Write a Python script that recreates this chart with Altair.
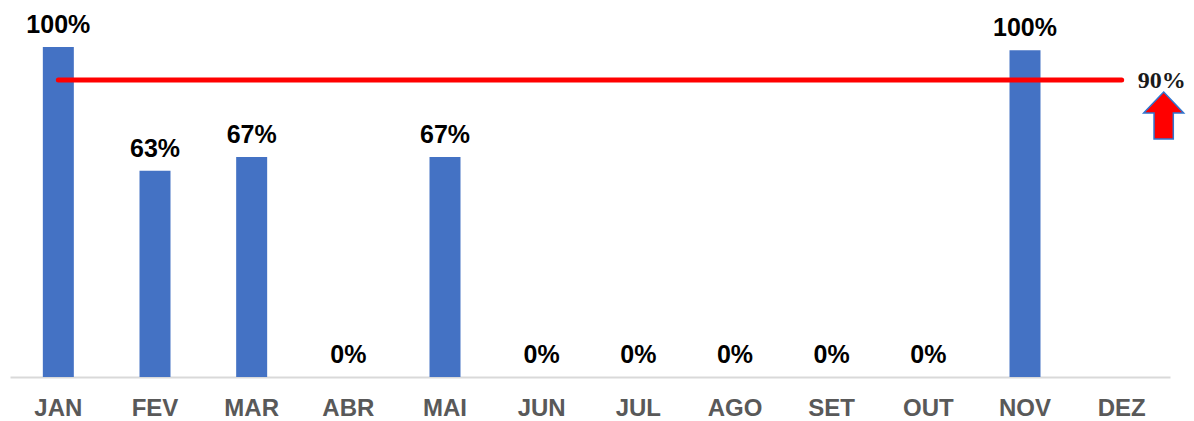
import altair as alt
import pandas as pd

months = ["JAN", "FEV", "MAR", "ABR", "MAI", "JUN", "JUL", "AGO", "SET", "OUT", "NOV", "DEZ"]
values = [1.0, 0.625, 0.667, 0.0, 0.667, 0.0, 0.0, 0.0, 0.0, 0.0, 0.99, None]
labels = ["100%", "63%", "67%", "0%", "67%", "0%", "0%", "0%", "0%", "0%", "100%", ""]
target = 0.9
target_label = "90%"
target_month = "DEZ"

df = pd.DataFrame({"month": months, "value": values, "label": labels,
                   "target": [target] * len(months)})
ann = pd.DataFrame({"month": [target_month], "target": [target], "label": [target_label]})

SANS = "Liberation Sans, Arial, sans-serif"
SERIF = "Liberation Serif, Times New Roman, serif"

x = alt.X("month:N", sort=months,
          scale=alt.Scale(paddingInner=0, paddingOuter=0),
          axis=alt.Axis(title=None, labelAngle=0, ticks=False, grid=False,
                        domainColor="#d9d9d9", domainWidth=2,
                        labelFont=SANS, labelFontWeight="bold", labelFontSize=24,
                        labelColor="#595959", labelPadding=19.5))
yscale = alt.Scale(domain=[0, 1], nice=False, zero=True)
y = alt.Y("value:Q", scale=yscale, axis=None)
yt = alt.Y("target:Q", scale=yscale, axis=None)

bars = alt.Chart(df).mark_bar(width=31, color="#4472C4").encode(x=x, y=y)

texts = alt.Chart(df).mark_text(dy=-14, baseline="alphabetic", font=SANS, fontSize=25,
                                fontWeight="bold", color="#000000").encode(
    x=x, y=y, text="label:N")

line = alt.Chart(df).mark_line(color="#FF0000", strokeWidth=5, strokeCap="round").encode(
    x=x, y=yt)

arrow_path = "M0,-1 L0.85,-0.11 L0.41,-0.11 L0.41,1 L-0.41,1 L-0.41,-0.11 L-0.85,-0.11 Z"
arrow = alt.Chart(ann).mark_point(shape=arrow_path, size=2209, filled=True, fill="#FF0000",
                                  stroke="#2F75D0", strokeWidth=1.5, opacity=1,
                                  xOffset=42, yOffset=35.5).encode(x=x, y=yt)

tlabel = alt.Chart(ann).mark_text(xOffset=40, dy=8.3, baseline="alphabetic", font=SERIF,
                                  fontSize=24, fontWeight="bold", color="#1a1a1a").encode(
    x=x, y=yt, text="label:N")

chart = alt.layer(bars, line, texts, arrow, tlabel).properties(
    width=1160, height=330,
    padding={"left": 2, "top": 39, "right": 16, "bottom": 43},
    autosize=alt.AutoSizeParams(type="none"),
).configure_view(stroke=None)

chart.save("out.html", embed_options={"renderer": "svg", "actions": False})
